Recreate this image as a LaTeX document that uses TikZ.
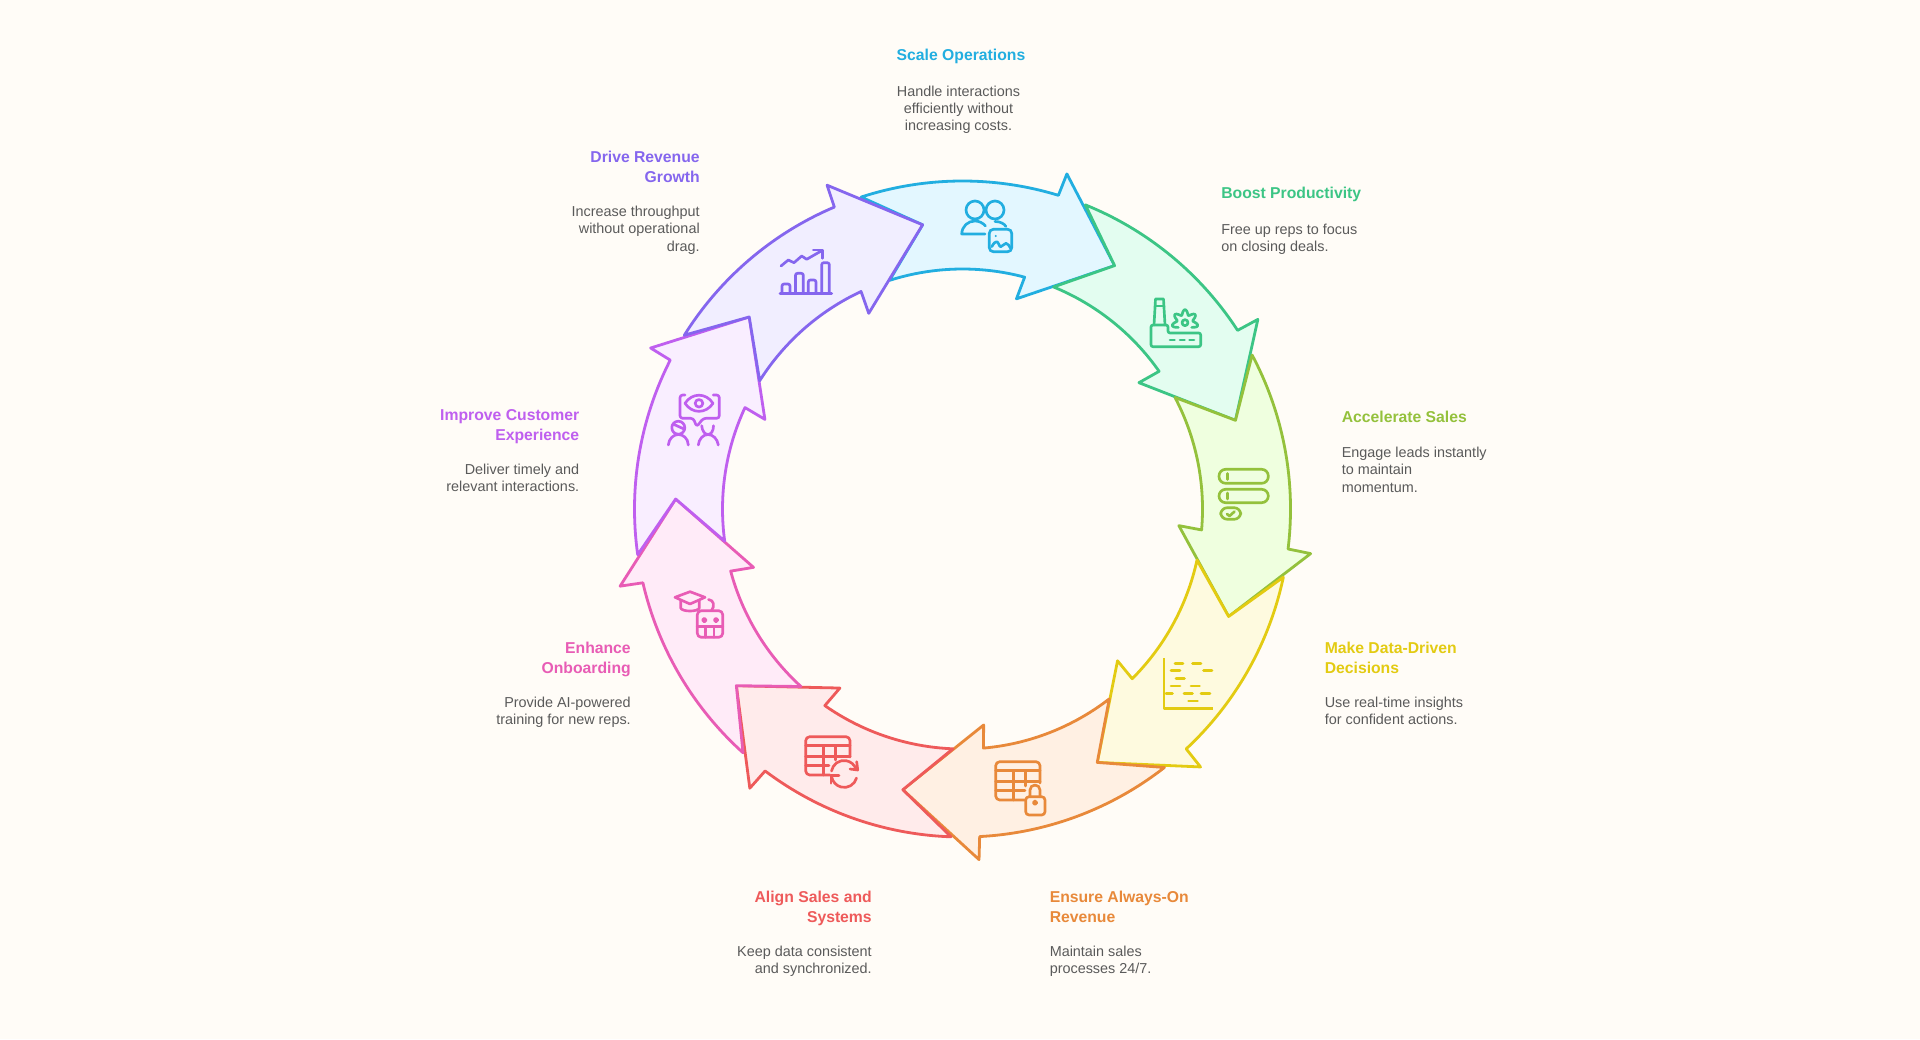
\documentclass[tikz,border=0pt]{standalone}
\usepackage{fontspec}
\setmainfont{Liberation Sans}
\definecolor{paper}{HTML}{FFFCF7}
\definecolor{bodygray}{HTML}{5A5A5A}
\definecolor{scaleline}{HTML}{22AEE0}
\definecolor{scalefill}{HTML}{E3F7FF}
\definecolor{boostline}{HTML}{3CC585}
\definecolor{boostfill}{HTML}{E3FDF0}
\definecolor{salesline}{HTML}{94C13C}
\definecolor{salesfill}{HTML}{EFFFDF}
\definecolor{dataline}{HTML}{E3CB12}
\definecolor{datafill}{HTML}{FEFADF}
\definecolor{revline}{HTML}{E8893A}
\definecolor{revfill}{HTML}{FFF0E3}
\definecolor{alignline}{HTML}{EE5A5A}
\definecolor{alignfill}{HTML}{FFEBEB}
\definecolor{boardline}{HTML}{E85CB5}
\definecolor{boardfill}{HTML}{FFEBF8}
\definecolor{custline}{HTML}{BF5FEF}
\definecolor{custfill}{HTML}{F9EEFF}
\definecolor{driveline}{HTML}{8566EE}
\definecolor{drivefill}{HTML}{F1EEFF}
\tikzset{
  ringarrow/.style = {
    line width=2.1pt,
    line join=round
  },
  iconline/.style = {
    line width=2pt,
    line join=round,
    line cap=round
  },
  headtext/.style = {
    inner sep=0pt,
    font=\bfseries\fontsize{11.8pt}{15pt}\selectfont
  },
  bodytext/.style = {
    inner sep=0pt,
    text=bodygray,
    font=\fontsize{10.8pt}{12.9pt}\selectfont
  }
}

\begin{document}
\begin{tikzpicture}[x=0.75pt,y=0.75pt,yscale=-1]
  \pgfmathsetmacro{\router}{328};
  \pgfmathsetmacro{\rinner}{240};
  \pgfmathsetmacro{\rtip}{287};
  % page
  \fill[paper] (0,0) rectangle (1920,1039);
  \useasboundingbox (0,0) rectangle (1920,1039);
  % ring
  \begin{scope}[shift={(962.5,509)}]
    \foreach \k/\ringline/\ringfill in {0/scaleline/scalefill,1/boostline/boostfill,2/salesline/salesfill,3/dataline/datafill,4/revline/revfill,5/alignline/alignfill,6/boardline/boardfill,7/custline/custfill,8/driveline/drivefill} {%
      \pgfmathsetmacro{\a}{40*\k};
      \draw[ringarrow,draw=\ringline,fill=\ringfill] ({\a-108}:\router) arc[start angle={\a-108},end angle={\a-73},radius=\router] -- ({\a-72.7}:351) -- ({\a-58}:\rtip) -- ({\a-75.6}:217) -- ({\a-75}:\rinner) arc[start angle={\a-75},end angle={\a-107.7},radius=\rinner] -- ({\a-98}:\rtip) -- cycle;
    }
  \end{scope}
  % labels
  \foreach \name/\ringline/\x/\xbody/\yhead/\ybody/\side/\just/\head/\desc in {%
    scale/scaleline/961/958.5/49/85.5/north/center/{Scale Operations}/{Handle interactions\\efficiently without\\increasing costs.},
    boost/boostline/1221/1221/186.8/223.5/north west/left/{Boost Productivity}/{Free up reps to focus\\on closing deals.},
    sales/salesline/1341.5/1341.5/410.8/447/north west/left/{Accelerate Sales}/{Engage leads instantly\\to maintain\\momentum.},
    data/dataline/1324.5/1324.5/641.6/697/north west/left/{Make Data-Driven\\Decisions}/{Use real-time insights\\for confident actions.},
    rev/revline/1049.5/1049.5/891/946/north west/left/{Ensure Always-On\\Revenue}/{Maintain sales\\processes 24/7.},
    align/alignline/872/872/891/946/north east/right/{Align Sales and\\Systems}/{Keep data consistent\\and synchronized.},
    board/boardline/631/631/641.6/697/north east/right/{Enhance\\Onboarding}/{Provide AI-powered\\training for new reps.},
    cust/custline/579.5/579.5/409.2/464/north east/right/{Improve Customer\\Experience}/{Deliver timely and\\relevant interactions.},
    drive/driveline/700/700/151.2/206/north east/right/{Drive Revenue\\Growth}/{Increase throughput\\without operational\\drag.}} {%
    \node[headtext,text=\ringline,anchor=\side,align=\just] (head\name) at (\x,\yhead) {\head};
    \node[bodytext,anchor=\side,align=\just] (body\name) at (\xbody,\ybody) {\desc};
  }
  % icon scale
  \begin{scope}[iconline,draw=scaleline]
    \draw (975,210) circle (9);
    \draw (995,210) circle (9);
    \draw (985,234) -- (961.7,234) .. controls (962,226) and (968,221) .. (975,221) .. controls (979,221) and (983,223) .. (985.5,226);
    \draw (995,221.5) .. controls (1000,221.5) and (1004,223.5) .. (1006,226.5);
    \draw[rounded corners=3] (989.3,229.3) rectangle (1011.7,251.7);
    \fill[scaleline] (995.7,236) circle (1.2);
    \draw (991.7,246.7) .. controls (994,243) and (995,241.7) .. (996.7,241.7) .. controls (998.5,241.7) and (999,246.7) .. (1000.7,246.7) .. controls (1002.5,246.7) and (1004,243.3) .. (1006,243.3) .. controls (1008,243.3) and (1009,246) .. (1010.7,248.3);
  \end{scope}
  % icon boost
  \begin{scope}[iconline,draw=boostline]
    \draw (1154,325) -- (1155.5,299) -- (1163.5,299) -- (1165,325);
    \draw (1155,306) -- (1164,306);
    \draw[rounded corners=1.5] (1151,325) -- (1168,325) -- (1168,333) -- (1200.7,333) -- (1200.7,346.7) -- (1151,346.7) -- cycle;
    \foreach \x in {1170,1180,1189.5} {%
      \draw (\x,340) -- ++ (4.5,0);
    }
    \draw (1185,322.7) circle (3);
    \draw plot[smooth,samples=60,domain=145:395,variable=\t] ({1185+(10.5+2.5*cos(7*(\t-270)))*cos(\t)},{322.7+(10.5+2.5*cos(7*(\t-270)))*sin(\t)});
  \end{scope}
  % icon sales
  \begin{scope}[iconline,draw=salesline]
    \draw[rounded corners=5] (1219,469.3) rectangle (1268.3,483.3);
    \draw[rounded corners=5] (1219,489.3) rectangle (1268.3,502.7);
    \draw (1227.3,473.5) -- ++ (0,6);
    \draw (1227.3,493) -- ++ (0,6);
    \draw[rounded corners=5] (1220.7,507.7) rectangle (1240.7,519.3);
    \draw (1227,514) -- (1229.5,516) -- (1234.5,511.5);
  \end{scope}
  % icon data
  \begin{scope}[iconline,draw=dataline]
    \draw[line cap=butt] (1164,658.3) -- (1164,708.3) -- (1213.3,708.3);
    \foreach \ydash/\xa/\xb in {663.3/1175/1183,663.3/1192.5/1201,670.7/1171/1180,670.7/1203.5/1212,678.7/1176/1184.5,686/1171/1180,686/1191/1199.5,693.3/1166/1172.5,693.3/1184/1192.5,693.3/1201/1210,701/1188.5/1197.5} {%
      \draw (\xa,\ydash) -- (\xb,\ydash);
    }
  \end{scope}
  % icon rev
  \begin{scope}[iconline,draw=revline]
    \draw[rounded corners=3] (1025,800) -- (995.7,800) -- (995.7,761.7) -- (1040,761.7) -- (1040,783);
    \draw (995.7,770.7) -- (1040,770.7);
    \draw (995.7,781.7) -- (1040,781.7);
    \draw (995.7,790.7) -- (1025,790.7);
    \draw (1013.3,770.7) -- (1013.3,800);
    \draw (1025.7,770.7) -- (1025.7,786);
    \draw[rounded corners=2.5] (1025.7,796.7) rectangle (1045,815);
    \draw (1030,796.7) -- (1030,790) arc[start angle=180,end angle=360,radius=5] -- (1040,796.7);
    \draw (1035,802.7) circle (1.8);
  \end{scope}
  % icon align
  \begin{scope}[iconline,draw=alignline]
    \draw[rounded corners=3] (830,775) -- (805.7,775) -- (805.7,736.7) -- (850,736.7) -- (850,757);
    \draw (805.7,745.7) -- (850,745.7);
    \draw (805.7,756.7) -- (850,756.7);
    \draw (805.7,765.7) -- (829,765.7);
    \draw (823.3,745.7) -- (823.3,775);
    \draw (835.7,745.7) -- (835.7,760);
    \draw (831.5,771) arc[start angle=190,end angle=340,radius=12.7];
    \draw (856.7,761.7) -- (857.7,770) -- (850,769);
    \draw (856.5,778) arc[start angle=15,end angle=170,radius=12.7];
    \draw (831,783.3) -- (831,775.7) -- (839,775.7);
  \end{scope}
  % icon board
  \begin{scope}[iconline,draw=boardline]
    \draw (675,597.3) -- (690,591.7) -- (705,597.3) -- (690,604) -- cycle;
    \draw (680.7,600.7) -- (680.7,608) .. controls (682,612) and (698,612) .. (699.3,608) -- (699.3,600.7);
    \draw[rounded corners=3] (697.3,610.7) rectangle (722.7,637.3);
    \draw (697.3,626.7) -- (722.7,626.7);
    \draw (705.5,626.7) -- (705.5,637.3);
    \draw (714,626.7) -- (714,637.3);
    \draw (704.3,620) circle (1.8);
    \draw (716,620) circle (1.8);
    \draw (711.5,610.7) .. controls (715,606) and (714,600) .. (708.5,599.5);
  \end{scope}
  % icon cust
  \begin{scope}[iconline,draw=custline]
    \draw[rounded corners=2] (685,395) -- (680,395) -- (680,418.3) -- (693.3,418.3) -- (696.7,426.7) -- (703.3,418.3) -- (719.3,418.3) -- (719.3,395) -- (713.3,395);
    \draw (685,403.3) .. controls (692,392.5) and (706,392.5) .. (713,403.3) .. controls (706,414) and (692,414) .. (685,403.3) -- cycle;
    \draw (699,403.3) circle (3.8);
    \draw (678.3,427.7) circle (6.5);
    \draw (673,424) -- (684,429);
    \draw (668.3,445) .. controls (669,438) and (674,434.5) .. (678.3,434.5) .. controls (683,434.5) and (688,438) .. (688.3,445);
    \draw (701.7,425.7) .. controls (702,431) and (705,434.5) .. (708,434.5) .. controls (711,434.5) and (713.5,431) .. (713.5,425.7);
    \draw (698.3,445) .. controls (699,439) and (703,434.5) .. (708,434.5) .. controls (713,434.5) and (717.5,439) .. (718.3,445);
  \end{scope}
  % icon drive
  \begin{scope}[iconline,draw=driveline]
    \draw (780,293.3) -- (831.7,293.3);
    \foreach \xa/\xb/\ybar in {782/790/284,795.5/803.3/273.3,808.3/816/280,821.7/829.3/262.7} {%
      \draw[rounded corners=1.5] (\xa,293.3) -- (\xa,\ybar) -- (\xb,\ybar) -- (\xb,293.3);
    }
    \draw (781,266) -- (788.3,260) -- (794,262.7) -- (801.7,256) -- (806.7,259.3) -- (821.7,250.7);
    \draw (813.3,250) -- (822.7,250) -- (822.7,258.3);
  \end{scope}
\end{tikzpicture}
\end{document}
